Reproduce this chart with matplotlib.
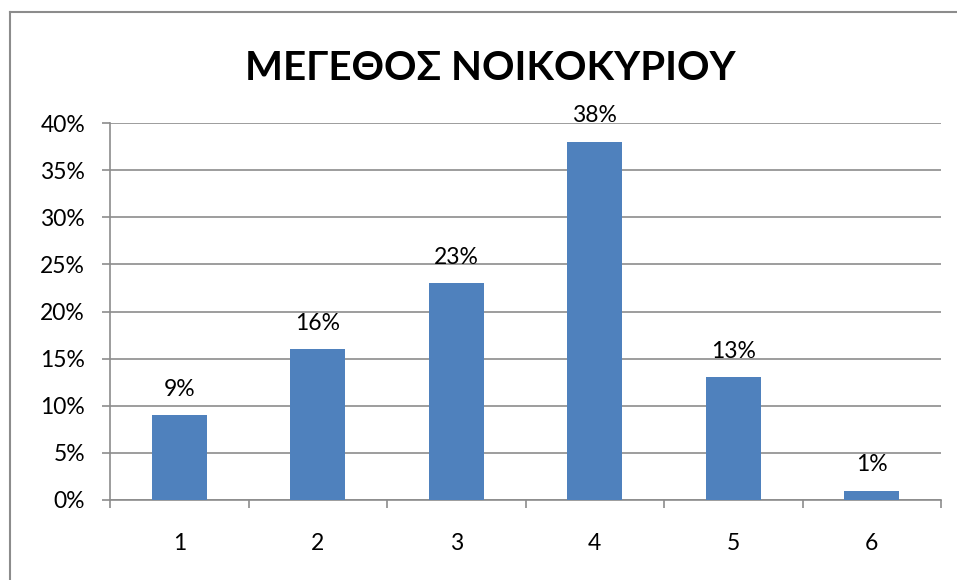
import numpy as np
from matplotlib import pyplot as plt

plt.rcParams['font.family'] = ['Lato', 'Open Sans', 'DejaVu Sans']

"DATA"
title = 'ΜΕΓΕΘΟΣ ΝΟΙΚΟΚΥΡΙΟΥ'
categories = ['1', '2', '3', '4', '5', '6']
shares = [9, 16, 23, 38, 13, 1]
y_ticks = [0, 5, 10, 15, 20, 25, 30, 35, 40]

bar_color = '#4f81bd'
grid_color = '#8c8c8c'
fs = 16.5

"MAKE PLOT"
fig = plt.figure(figsize=(9.57, 5.8), dpi=100)
ax = fig.add_axes([110/957, 1 - 500/580, 831/957, 377/580])

x = np.arange(len(categories))
ax.bar(x, shares, width=0.4, color=bar_color, zorder=3)

for xi, v in zip(x, shares):
    ax.annotate('%d%%' % v, (xi, v), xytext=(0, 14), textcoords='offset points',
                ha='center', va='baseline', fontsize=fs)

ax.set_xlim(-0.5, len(categories) - 0.5)
ax.set_ylim(0, 40)
ax.set_yticks(y_ticks)
ax.set_yticklabels(['%d%%' % t for t in y_ticks], fontsize=fs)
ax.yaxis.grid(True, color=grid_color, linewidth=1.2, zorder=0)

# category labels centred, tick marks on the category boundaries
ax.set_xticks(x)
ax.set_xticklabels(categories, fontsize=fs)
ax.tick_params(axis='x', length=0, pad=24)
ax.set_xticks(np.arange(len(categories) + 1) - 0.5, minor=True)
ax.tick_params(axis='x', which='minor', length=6, width=1.2, color=grid_color)
ax.tick_params(axis='y', length=6, width=1.2, color=grid_color, pad=12)

for s in ['top', 'right']:
    ax.spines[s].set_visible(False)
for s in ['left', 'bottom']:
    ax.spines[s].set_color(grid_color)
    ax.spines[s].set_linewidth(1.2)

fig.text(490/957, 1 - 68/580, title, ha='center', va='center',
         fontsize=29, fontweight='bold')

# outer chart frame (left and top only visible)
fig.add_artist(plt.Line2D([10/957, 10/957], [0, 1 - 12/580], color=grid_color,
                          linewidth=1.5, transform=fig.transFigure))
fig.add_artist(plt.Line2D([10/957, 1], [1 - 12/580, 1 - 12/580], color=grid_color,
                          linewidth=1.5, transform=fig.transFigure))

fig.savefig('out.png', dpi=100)
